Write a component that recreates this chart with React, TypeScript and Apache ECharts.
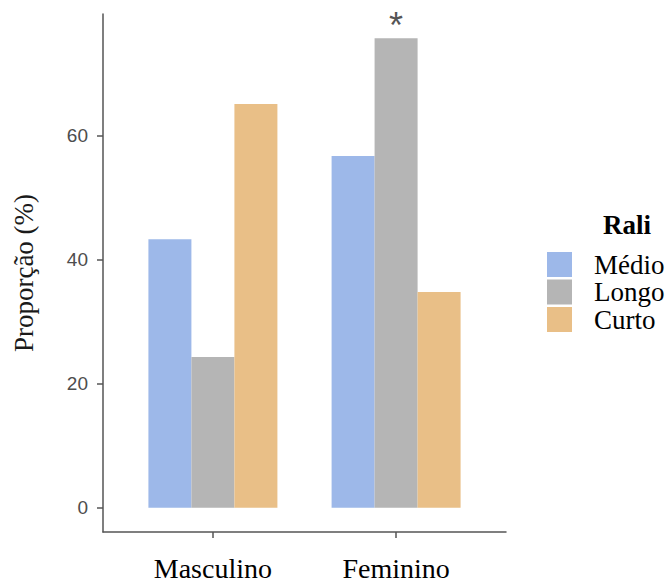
import React, { useEffect, useRef } from "react";
import * as echarts from "echarts";

const categories = ["Masculino", "Feminino"];
const seriesNames = ["Médio", "Longo", "Curto"];
const medio = [43.3, 56.7];
const longo = [24.3, 75.7];
const curto = [65.1, 34.8];
const yTicks = [0, 20, 40, 60];
const significant = { series: 1, category: 1, mark: "*" };
const colors = ["#9db8e9", "#b5b5b5", "#e9bf87"];

const SERIF = "'Liberation Serif', 'Times New Roman', serif";
const SANS = "'Liberation Sans', Arial, sans-serif";

export default function App() {
  const ref = useRef<HTMLDivElement>(null);
  useEffect(() => {
    if (!ref.current) return;
    const chart = echarts.init(ref.current, null, { renderer: "svg" });
    const all = [medio, longo, curto];
    const series = all.map((vals, si) => ({
      name: seriesNames[si],
      type: "bar",
      barWidth: 43,
      barGap: "0%",
      itemStyle: { color: colors[si] },
      data: vals.map((v, ci) => {
        const item: any = { value: [ci, v] };
        if (si === significant.series && ci === significant.category) {
          item.label = {
            show: true,
            position: "top",
            distance: -5,
            formatter: significant.mark,
            fontSize: 36,
            fontFamily: SANS,
            color: "#555555",
          };
        }
        return item;
      }),
    }));
    chart.setOption({
      animation: false,
      backgroundColor: "#ffffff",
      title: {
        text: "Rali",
        left: 603,
        top: 211,
        padding: 0,
        textStyle: {
          fontFamily: SERIF,
          fontWeight: "bold",
          fontSize: 27,
          color: "#000000",
        },
      },
      legend: {
        orient: "vertical",
        left: 547,
        top: 251,
        padding: 0,
        itemWidth: 25,
        itemHeight: 25,
        itemGap: 0.5,
        icon: "rect",
        data: seriesNames,
        textStyle: {
          fontFamily: SERIF,
          fontSize: 27,
          color: "#000000",
          padding: [0, 0, 0, 17],
        },
      },
      grid: { left: 103, top: 14, width: 403, height: 518 },
      xAxis: {
        type: "value",
        min: -0.6,
        max: 1.6,
        splitLine: { show: false },
        axisLine: { show: true, onZero: false, lineStyle: { color: "#555555", width: 1.5 } },
        axisTick: {
          show: true,
          customValues: [0, 1],
          length: 6,
          lineStyle: { color: "#555555", width: 1.5 },
        },
        axisLabel: {
          customValues: [0, 1],
          formatter: (v: number) => categories[Math.round(v)] ?? "",
          fontFamily: SERIF,
          fontSize: 28,
          color: "#000000",
          margin: 22,
        },
      },
      yAxis: {
        type: "value",
        min: -3.9,
        max: 79.6,
        name: "Proporção (%)",
        nameLocation: "middle",
        nameGap: 66,
        nameTextStyle: {
          fontFamily: SERIF,
          fontSize: 27,
          color: "#1a1a1a",
        },
        splitLine: { show: false },
        axisLine: { show: true, onZero: false, lineStyle: { color: "#555555", width: 1.5 } },
        axisTick: {
          show: true,
          customValues: yTicks,
          length: 6,
          lineStyle: { color: "#555555", width: 1.5 },
        },
        axisLabel: {
          customValues: yTicks,
          fontFamily: SANS,
          fontSize: 19,
          color: "#4d4d4d",
          margin: 15,
        },
      },
      series,
    });
    return () => chart.dispose();
  }, []);
  return <div ref={ref} style={{ width: 668, height: 583, position: "absolute", left: 0, top: 0 }} />;
}
